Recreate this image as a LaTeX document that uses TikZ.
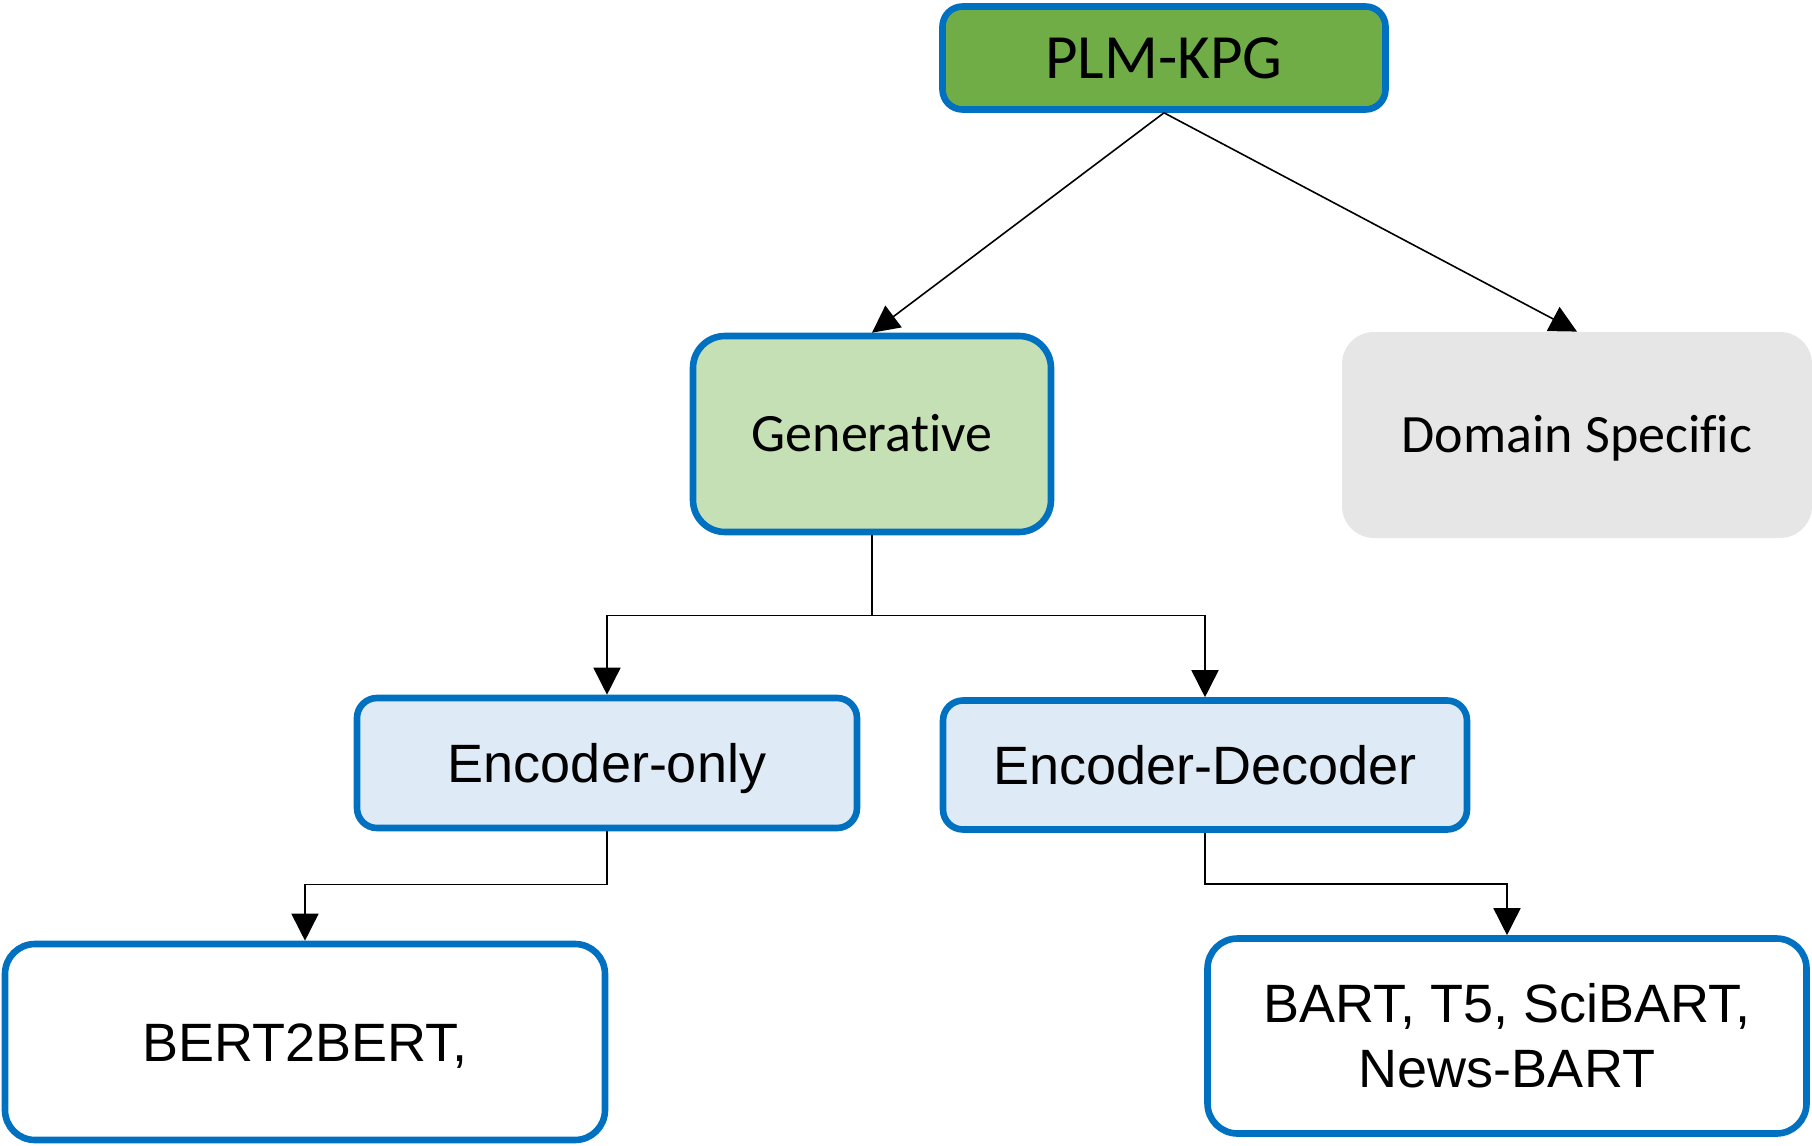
\documentclass[tikz,border=0pt]{standalone}
\usepackage{fontspec}
\usetikzlibrary{arrows.meta,calc}
\newfontfamily\calibrifont[Ligatures=NoCommon]{Carlito}
\newfontfamily\arialfont{Liberation Sans}
\definecolor{plmgreen}{HTML}{70AD47}
\definecolor{gengreen}{HTML}{C5E0B4}
\definecolor{boxblue}{HTML}{0070C0}
\definecolor{domgray}{HTML}{E7E6E6}
\definecolor{encblue}{HTML}{DEEBF7}
\begin{document}
\begin{tikzpicture}[x=0.5pt, y=-0.5pt,
  box/.style={draw=boxblue, line width=3.3pt, align=center, inner sep=0pt},
  calfont/.style={font=\calibrifont\fontsize{27}{32}\selectfont, text height=17.4pt, text depth=0pt},
  arfont/.style={font=\arialfont\fontsize{27}{32.5}\selectfont, text height=19.3pt, text depth=0pt},
  conn/.style={line width=0.8pt, -{Triangle[width=13.5pt,length=13.5pt]}}]
  \useasboundingbox (0,0) rectangle (1812,1146);
  % Root
  \node[box, fill=plmgreen, rounded corners=10pt, minimum width=221.5pt, minimum height=51.5pt,
        font=\calibrifont\fontsize{31.5}{38}\selectfont, text height=20.3pt, text depth=0pt] (plm) at (1164,58) {PLM-KPG};
  % Second level
  \node[box, fill=gengreen, rounded corners=16pt, minimum width=179pt, minimum height=98pt, calfont] (gen) at (872,434) {Generative};
  \node[fill=domgray, rounded corners=16pt, minimum width=235pt, minimum height=103pt, inner sep=0pt, calfont] (dom) at (1577,435) {Domain Specific};
  % Architectures
  \node[box, fill=encblue, rounded corners=10pt, minimum width=250pt, minimum height=65pt, arfont] (enc) at (607,763) {Encoder-only};
  \node[box, fill=encblue, rounded corners=10pt, minimum width=262pt, minimum height=64.5pt, arfont] (encdec) at (1205,765) {Encoder-Decoder};
  % Models
  \node[box, fill=white, rounded corners=15pt, minimum width=300pt, minimum height=98pt, arfont] (bert) at (305,1042) {BERT2BERT,};
  \node[box, fill=white, rounded corners=15pt, minimum width=299.5pt, minimum height=97.5pt,
        font=\arialfont\fontsize{27}{32.5}\selectfont] (bart) at (1507,1036) {BART, T5, SciBART,\\News-BART};
  % Connectors
  \draw[conn] (plm.south) -- (gen.north);
  \draw[conn] (plm.south) -- (dom.north);
  \coordinate (gsplit) at ($(gen.south)+(0,80)$);
  \draw[line width=0.8pt] (gen.south) -- (gsplit);
  \draw[conn] (gsplit) -| (enc.north);
  \draw[conn] (gsplit) -| (encdec.north);
  \draw[conn] (enc.south) -- ++(0,53) -| (bert.north);
  \draw[conn] (encdec.south) -- ++(0,51) -| (bart.north);
\end{tikzpicture}
\end{document}
